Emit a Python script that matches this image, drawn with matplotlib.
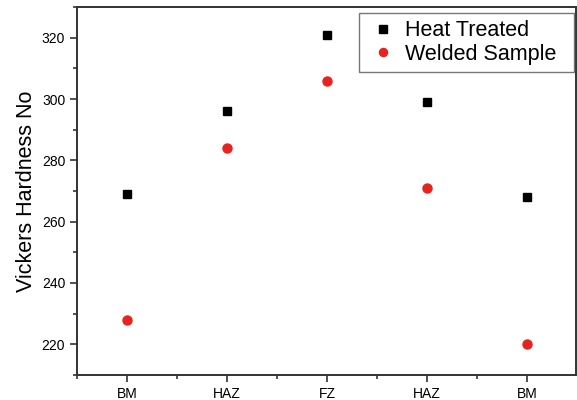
import matplotlib
matplotlib.use('Agg')
import matplotlib.pyplot as plt
import matplotlib.ticker as ticker

matplotlib.rcParams['font.family'] = ['Liberation Sans', 'DejaVu Sans']

zones = ['BM', 'HAZ', 'FZ', 'HAZ', 'BM']
positions = [1, 2, 3, 4, 5]
heat_treated = [269, 296, 321, 299, 268]
welded = [228, 284, 306, 271, 220]

fig = plt.figure(figsize=(5.77, 4.0), dpi=100)
ax = fig.add_axes([0.1334, 0.0625, 0.865, 0.92])

ax.plot(positions, heat_treated, 's', color='black', markersize=6, label='Heat Treated')
ax.plot(positions, welded, 'o', color='#e8231f', markersize=6.5, label='Welded Sample')

ax.set_xlim(0.5, 5.49)
ax.set_ylim(210, 330)
ax.set_xticks(positions)
ax.set_xticklabels(zones, fontsize=10)
ax.xaxis.set_minor_locator(ticker.FixedLocator([0.5, 1.5, 2.5, 3.5, 4.5]))
ax.yaxis.set_major_locator(ticker.MultipleLocator(20))
ax.yaxis.set_minor_locator(ticker.MultipleLocator(10))
ax.tick_params(axis='y', labelsize=10)
ax.tick_params(which='major', direction='out', length=5, width=1.2, color='#333333')
ax.tick_params(which='minor', direction='out', length=3, width=1.2, color='#333333')

for side in ['left', 'bottom', 'top', 'right']:
    ax.spines[side].set_linewidth(1.4)
    ax.spines[side].set_color('#333333')

ax.set_ylabel('Vickers Hardness No', fontsize=15.5, labelpad=3)

leg = ax.legend(loc='upper left', mode='expand', fontsize=15.5, frameon=True,
                fancybox=False, edgecolor='#555555', handletextpad=0.26,
                borderpad=0.35, labelspacing=0.12, handlelength=1.53,
                markerscale=0.9, borderaxespad=0.0,
                bbox_to_anchor=(0.565, 0.985, 0.431, 0.0))
leg.get_frame().set_linewidth(1.0)

fig.savefig('out.png', dpi=100)
